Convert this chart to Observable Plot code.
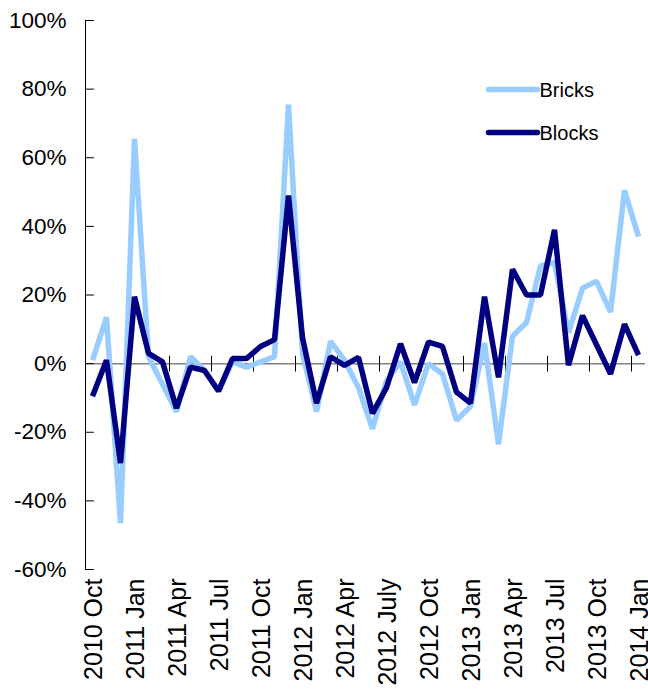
<!DOCTYPE html>
<html><head><meta charset="utf-8">
<script src="https://cdn.jsdelivr.net/npm/d3@7"></script>
<script src="https://cdn.jsdelivr.net/npm/@observablehq/plot@0.6"></script>
<style>body{margin:0;background:#fff}</style>
</head><body><div id="chart"></div>
<script>
// Monthly categories, 2010 Oct .. 2014 Jan
const months = [
  "2010 Oct","2010 Nov","2010 Dec",
  "2011 Jan","2011 Feb","2011 Mar","2011 Apr","2011 May","2011 Jun","2011 Jul","2011 Aug","2011 Sep","2011 Oct","2011 Nov","2011 Dec",
  "2012 Jan","2012 Feb","2012 Mar","2012 Apr","2012 May","2012 Jun","2012 July","2012 Aug","2012 Sep","2012 Oct","2012 Nov","2012 Dec",
  "2013 Jan","2013 Feb","2013 Mar","2013 Apr","2013 May","2013 Jun","2013 Jul","2013 Aug","2013 Sep","2013 Oct","2013 Nov","2013 Dec",
  "2014 Jan"
];
const bricks = [1, 13.5, -46.5, 65.5, 2, -6, -14, 2, -2, -8, 0.5, -1, 0.5, 2,
  75.5, 3, -14, 6.5, 1, -7, -19, -5, 0.5, -12, 0, -3, -16.5,
  -12.5, 6, -23.5, 8, 12, 28.5, 29.5, 9, 22, 24, 15, 50.5, 37];
const blocks = [-9.5, 1, -29, 19.5, 3, 0.5, -13, -1, -2, -8, 1.5, 1.5, 5, 7,
  49, 7.5, -11.5, 2, -0.5, 1.8, -14.5, -7, 5.8, -5.5, 6.3, 5, -8.3,
  -11.5, 19.5, -4, 27.5, 20, 20, 39, -0.5, 14, 5.5, -3, 11.5, 2.5];
const seriesNames = ["Bricks", "Blocks"];
const seriesColors = ["#99CCFF", "#000080"];
const yTicks = [-60, -40, -20, 0, 20, 40, 60, 80, 100];
const labelStep = 3;

const labelIdx = months.map((m, i) => i).filter(i => i % labelStep === 0);
const xTickPos = labelIdx.slice(1).map(i => i - 0.5);
const rows = months.map((m, i) => ({i, m, bricks: bricks[i], blocks: blocks[i]}));
const tickShape = {draw(ctx, l) { ctx.moveTo(0, 0); ctx.lineTo(0, -l); }};
const font = "'Liberation Sans', Arial, sans-serif";

const chart = Plot.plot({
  width: 648, height: 689,
  marginLeft: 85, marginRight: 3, marginTop: 20, marginBottom: 120,
  x: {type: "linear", domain: [-0.5, months.length - 0.5], axis: null},
  y: {domain: [-60, 100], axis: null},
  style: {fontFamily: font, background: "white", color: "#000", overflow: "visible"},
  marks: [
    Plot.ruleY([0], {stroke: "#808080", strokeWidth: 1.5}),
    Plot.vector(xTickPos, {x: d => d, y: 0, length: 15, rotate: 0, anchor: "middle", shape: tickShape, stroke: "#000", strokeWidth: 1}),
    Plot.frame({anchor: "left", stroke: "#000", strokeWidth: 1}),
    Plot.vector(yTicks, {y: d => d, frameAnchor: "left", rotate: 90, length: 8, anchor: "start", shape: tickShape, stroke: "#000", strokeWidth: 1}),
    Plot.axisY(yTicks, {tickSize: 0, tickPadding: 19, tickFormat: d => d + "%", fontSize: 22.5, fill: "#000"}),
    Plot.text(labelIdx, {x: d => d, frameAnchor: "bottom", rotate: -90, textAnchor: "end", lineAnchor: "middle", dy: 9, dx: 1, text: d => months[d], fontSize: 25, fill: "#000"}),
    Plot.line(rows, {x: "i", y: "bricks", stroke: seriesColors[0], strokeWidth: 5.5, strokeLinejoin: "miter", strokeLinecap: "butt"}),
    Plot.line(rows, {x: "i", y: "blocks", stroke: seriesColors[1], strokeWidth: 5.5, strokeLinejoin: "miter", strokeLinecap: "butt"}),
    // legend
    Plot.vector([seriesNames[0]], {frameAnchor: "top-left", dx: 403, dy: 69, rotate: 90, length: 49, anchor: "start", shape: tickShape, stroke: seriesColors[0], strokeWidth: 5.5}),
    Plot.text([seriesNames[0]], {frameAnchor: "top-left", dx: 454, dy: 70, text: d => d, textAnchor: "start", lineAnchor: "middle", fontSize: 20, fill: "#000"}),
    Plot.vector([seriesNames[1]], {frameAnchor: "top-left", dx: 403, dy: 112, rotate: 90, length: 49, anchor: "start", shape: tickShape, stroke: seriesColors[1], strokeWidth: 5.5}),
    Plot.text([seriesNames[1]], {frameAnchor: "top-left", dx: 454, dy: 113, text: d => d, textAnchor: "start", lineAnchor: "middle", fontSize: 20, fill: "#000"})
  ]
});
document.getElementById("chart").appendChild(chart);
</script>
</body></html>
